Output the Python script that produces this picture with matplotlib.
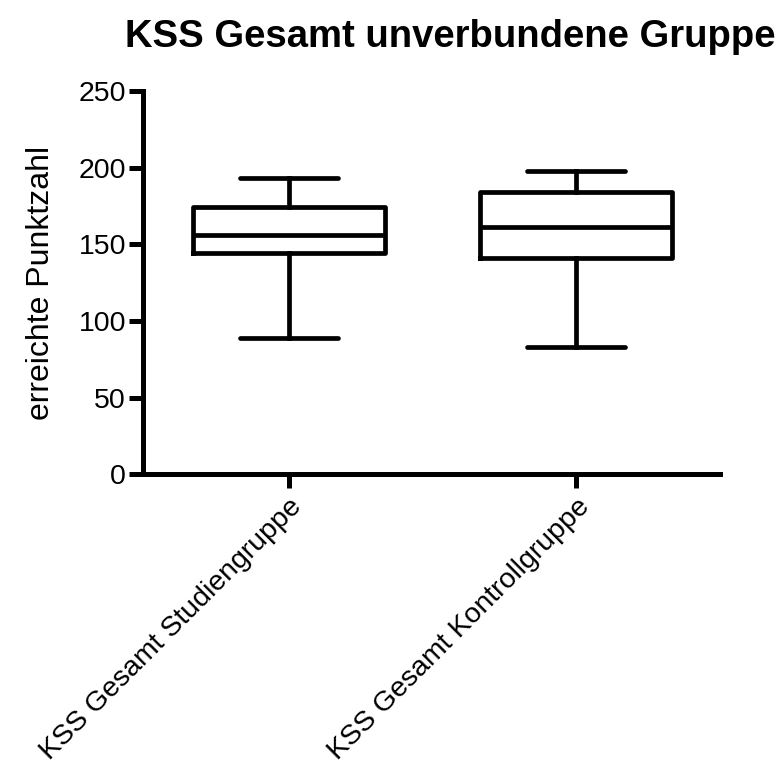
import matplotlib
matplotlib.use("Agg")
import matplotlib.pyplot as plt

plt.rcParams['font.family'] = ['Liberation Sans', 'DejaVu Sans']

groups = ["KSS Gesamt Studiengruppe", "KSS Gesamt Kontrollgruppe"]
whisker_low = [89, 83]
q1 = [144.5, 141]
median = [156, 161]
q3 = [174.5, 184]
whisker_high = [193, 198]


def main():
	fig = plt.figure(figsize=(7.79, 7.65), dpi=100)
	ax = fig.add_axes([0.183, 0.380, 0.741, 0.501])

	stats = []
	for i, name in enumerate(groups):
		stats.append(dict(label=name, whislo=whisker_low[i], q1=q1[i], med=median[i],
			q3=q3[i], whishi=whisker_high[i], fliers=[]))

	lw = 3.4
	ax.bxp(stats, positions=[1, 2], widths=0.67, showfliers=False,
		boxprops=dict(linewidth=lw, color='black'),
		medianprops=dict(linewidth=lw, color='black', solid_capstyle='butt'),
		whiskerprops=dict(linewidth=lw, color='black'),
		capprops=dict(linewidth=lw, color='black', solid_capstyle='round'),
		capwidths=0.34)

	ax.set_xlim(0.49, 2.5)
	ax.set_ylim(0, 250)
	ax.set_yticks([0, 50, 100, 150, 200, 250])
	ax.set_xticks([1, 2])
	ax.set_xticklabels(groups, rotation=45, ha='right', rotation_mode='anchor', fontsize=22)

	for s in ['top', 'right']:
		ax.spines[s].set_visible(False)
	for s in ['left', 'bottom']:
		ax.spines[s].set_linewidth(3.6)
	ax.tick_params(axis='both', width=3.6, length=10, labelsize=20.5, pad=2)
	ax.tick_params(axis='x', pad=4)

	ax.set_ylabel("erreichte Punktzahl", fontsize=23, labelpad=16)
	fig.suptitle("KSS Gesamt unverbundene Gruppe", fontsize=27.5, fontweight='bold',
		x=0.578, y=0.975)

	fig.savefig("out.png", dpi=100)


if __name__ == "__main__":
	main()
